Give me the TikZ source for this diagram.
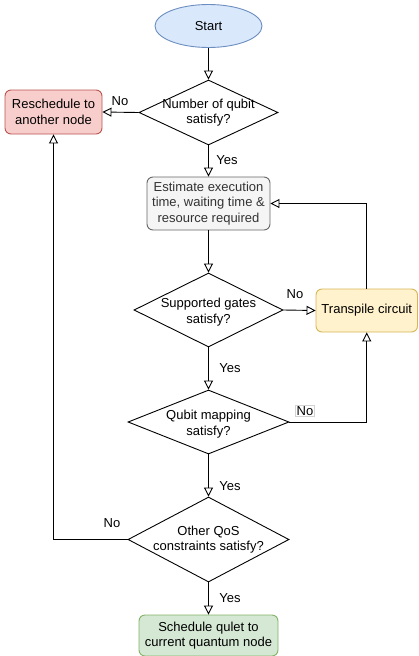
\documentclass[tikz,border=0pt]{standalone}
\usepackage{fontspec}
\setmainfont{Liberation Sans}
\usetikzlibrary{shapes.geometric,arrows.meta}
\definecolor{startf}{HTML}{DAE8FC}\definecolor{startb}{HTML}{6C8EBF}
\definecolor{resf}{HTML}{F8CECC}\definecolor{resb}{HTML}{B85450}
\definecolor{estf}{HTML}{F5F5F5}\definecolor{estb}{HTML}{666666}\definecolor{estt}{HTML}{333333}
\definecolor{trf}{HTML}{FFF2CC}\definecolor{trb}{HTML}{D6B656}
\definecolor{scf}{HTML}{D5E8D4}\definecolor{scb}{HTML}{82B366}
\begin{document}
\begin{tikzpicture}[x=1pt,y=-1pt,
  base/.style={font=\fontsize{13}{15.5}\selectfont, align=center},
  box/.style={base, draw, rounded corners=6pt, line width=0.9pt, inner sep=0pt},
  dia/.style={diamond, draw, line width=0.9pt, inner sep=0pt},
  arr/.style={-{Triangle[open,length=9pt,width=9pt]}, line width=0.9pt},
  lbl/.style={font=\fontsize{13}{15.5}\selectfont, inner sep=1pt}]
\useasboundingbox (0,0) rectangle (418,656);
\node[base, ellipse, draw=startb, fill=startf, line width=0.9pt, minimum width=107, minimum height=43, inner sep=0pt] (start) at (208.5,26) {Start};
\node[dia, minimum width=139, minimum height=65] (d1) at (208.5,112.5) {};
\node[base] (t1) at (d1) {Number of qubit\\satisfy?};
\node[box, draw=resb, fill=resf, minimum width=97, minimum height=44] (resch) at (53.5,112) {Reschedule to\\another node};
\node[box, draw=estb, fill=estf, text=estt, minimum width=123, minimum height=53] (est) at (208.5,203.5) {Estimate execution\\time, waiting time \&\\resource required};
\node[dia, minimum width=149, minimum height=74] (d2) at (208.5,310) {};
\node[base] (t2) at ([yshift=-2]d2) {Supported gates\\satisfy?};
\node[box, draw=trb, fill=trf, minimum width=101.5, minimum height=43] (trans) at (366.75,310.5) {Transpile circuit};
\node[dia, minimum width=161, minimum height=64] (d3) at (208.5,422) {};
\node[base] (t3) at ([yshift=-2]d3) {Qubit mapping\\satisfy?};
\node[dia, minimum width=161, minimum height=85] (d4) at (208.5,539.5) {};
\node[base] (t4) at (d4) {Other QoS\\constraints satisfy?};
\node[box, draw=scb, fill=scf, minimum width=139, minimum height=41] (sched) at (208.5,635.5) {Schedule qulet to\\current quantum node};
\draw[arr] (start.south) -- (d1.north);
\draw[arr] (d1.west) -- (resch.east);
\node[lbl] (n1) at (120,101) {No};
\draw[arr] (d1.south) -- (est.north);
\node[lbl] (y1) at (227,160) {Yes};
\draw[arr] (est.south) -- (d2.north);
\draw[arr] (d2.east) -- (trans.west);
\node[lbl] (n2) at (295,294) {No};
\draw[arr] (trans.north) |- (est.east);
\draw[arr] (d2.south) -- (d3.north);
\node[lbl] (y2) at (230,368) {Yes};
\draw[arr] (d3.east) -| (trans.south);
\node[lbl, draw=gray!35, line width=0.4pt, fill=white] (n3) at (305,411) {No};
\draw[arr] (d3.south) -- (d4.north);
\node[lbl] (y3) at (230,486) {Yes};
\draw[arr] (d4.west) -| (resch.south);
\node[lbl] (n4) at (112,523) {No};
\draw[arr] (d4.south) -- (sched.north);
\node[lbl] (y4) at (230,598) {Yes};
\end{tikzpicture}
\end{document}
